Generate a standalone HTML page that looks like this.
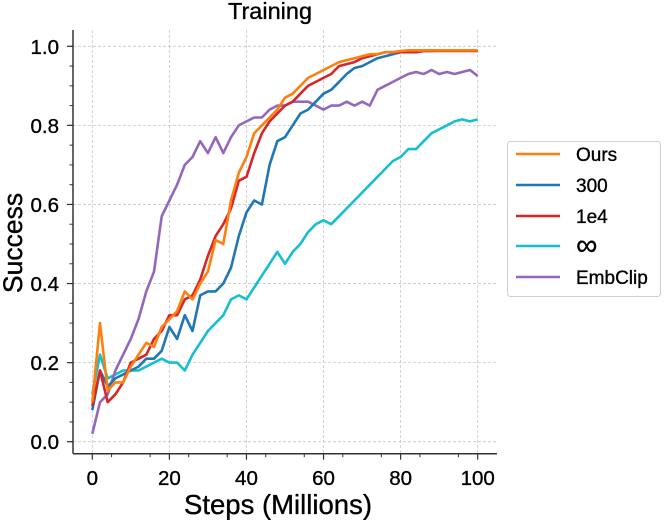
<!DOCTYPE html>
<html><head><meta charset="utf-8"><style>
html,body{margin:0;padding:0;background:#fff;}
svg{display:block;font-family:"Liberation Sans","DejaVu Sans",sans-serif;}
text{stroke:#000;stroke-width:0.35;}
</style></head><body>
<svg id="chart" width="664" height="520" viewBox="0 0 664 520" xmlns="http://www.w3.org/2000/svg">
<g id="grid"></g>
<g id="series"></g>
<g id="axes"></g>
<text x="270" y="19" font-size="23.5" text-anchor="middle">Training</text>
<text x="278" y="514" font-size="27.5" text-anchor="middle">Steps (Millions)</text>
<text transform="translate(22,243) rotate(-90)" font-size="26.5" text-anchor="middle">Success</text>
<g id="legend"></g>
</svg>
<script>
const stepSize = 2;
const ours = [0.10,0.30,0.13,0.15,0.15,0.19,0.22,0.25,0.24,0.29,0.31,0.33,0.38,0.36,0.40,0.43,0.51,0.50,0.61,0.68,0.72,0.78,0.80,0.82,0.84,0.87,0.88,0.90,0.92,0.93,0.94,0.95,0.96,0.965,0.97,0.975,0.98,0.98,0.985,0.985,0.988,0.99,0.99,0.99,0.99,0.99,0.99,0.99,0.99,0.99,0.99];
const s300 = [0.08,0.18,0.14,0.16,0.17,0.18,0.19,0.21,0.21,0.23,0.29,0.26,0.32,0.28,0.37,0.38,0.38,0.40,0.44,0.52,0.58,0.61,0.60,0.70,0.76,0.77,0.80,0.83,0.84,0.86,0.88,0.89,0.91,0.93,0.945,0.95,0.96,0.97,0.975,0.98,0.985,0.985,0.985,0.988,0.988,0.99,0.99,0.99,0.99,0.99,0.99];
const s1e4 = [0.09,0.18,0.10,0.12,0.15,0.20,0.21,0.22,0.26,0.28,0.32,0.32,0.36,0.37,0.41,0.47,0.52,0.55,0.59,0.66,0.67,0.73,0.78,0.81,0.83,0.85,0.86,0.88,0.90,0.91,0.92,0.93,0.95,0.955,0.96,0.97,0.975,0.98,0.985,0.985,0.985,0.985,0.985,0.988,0.988,0.988,0.988,0.988,0.988,0.988,0.988];
const sInf = [0.12,0.22,0.16,0.17,0.18,0.18,0.18,0.19,0.20,0.21,0.20,0.20,0.18,0.22,0.25,0.28,0.30,0.32,0.36,0.37,0.36,0.39,0.42,0.45,0.48,0.45,0.48,0.50,0.53,0.55,0.56,0.55,0.57,0.59,0.61,0.63,0.65,0.67,0.69,0.71,0.72,0.74,0.74,0.76,0.78,0.79,0.80,0.81,0.815,0.81,0.815];
const embclip = [0.02,0.10,0.12,0.18,0.22,0.26,0.31,0.38,0.43,0.57,0.61,0.65,0.70,0.72,0.76,0.73,0.77,0.73,0.77,0.80,0.81,0.82,0.82,0.84,0.85,0.85,0.86,0.86,0.86,0.85,0.84,0.85,0.85,0.86,0.85,0.86,0.85,0.89,0.90,0.91,0.92,0.93,0.935,0.93,0.94,0.93,0.935,0.93,0.935,0.94,0.925];
const seriesNames = ["Ours","300","1e4","∞","EmbClip"];
const xTicks = [0,20,40,60,80,100];
const yTicks = [0.0,0.2,0.4,0.6,0.8,1.0];

const NS="http://www.w3.org/2000/svg";
const colors=["#ff7f0e","#1f77b4","#d62728","#17becf","#9467bd"];
const seriesData=[ours,s300,s1e4,sInf,embclip];
const drawOrder=[3,4,1,2,0];
function xs(v){return 92.3+(v/100)*(477.7-92.3);}
function ys(v){return 441.7-v*(441.7-46.3);}
function mk(tag,attrs,parent){const e=document.createElementNS(NS,tag);for(const k in attrs)e.setAttribute(k,attrs[k]);parent.appendChild(e);return e;}
const grid=document.getElementById('grid'),axes=document.getElementById('axes'),ser=document.getElementById('series'),leg=document.getElementById('legend');
const L=73,R=497,T=30,B=453.7;
xTicks.forEach(t=>{
  const g=mk('line',{x1:xs(t),x2:xs(t),y1:T,y2:B,stroke:'#c8c8c8','stroke-width':0.8,'stroke-dasharray':'3,2'},grid);
  
  
  const tk=mk('line',{x1:xs(t),x2:xs(t),y1:B,y2:B+6,stroke:'#333','stroke-width':1.2},axes);
  
  
  const lb=mk('text',{x:xs(t),y:485,'font-size':20.5,'text-anchor':'middle'},axes);lb.textContent=t;
  
  
});
for(let m=5;m<100;m+=10){mk('line',{x1:xs(m),x2:xs(m),y1:B,y2:B+3.5,stroke:'#333','stroke-width':1},axes);}
yTicks.forEach(t=>{
  const g=mk('line',{x1:L,x2:R,y1:ys(t),y2:ys(t),stroke:'#c8c8c8','stroke-width':0.8,'stroke-dasharray':'3,2'},grid);
  
  
  const tk=mk('line',{x1:L-6,x2:L,y1:ys(t),y2:ys(t),stroke:'#333','stroke-width':1.2},axes);
  
  
  const lb=mk('text',{x:L-14,y:ys(t)+7.5,'font-size':20.5,'text-anchor':'end'},axes);lb.textContent=t.toFixed(1);
  
  
});
for(let m=-0.05;m<1.2;m+=0.05){const yy=ys(m);if(yy>=T&&yy<=B)mk('line',{x1:L-3.5,x2:L,y1:yy,y2:yy,stroke:'#333','stroke-width':1},axes);}
const sl=mk('line',{x1:L,x2:L,y1:T,y2:B,stroke:'#333','stroke-width':1.5},axes);


const sb=mk('line',{x1:L,x2:R,y1:B,y2:B,stroke:'#333','stroke-width':1.5},axes);


drawOrder.forEach(i=>{
  const pts=seriesData[i].map((v,j)=>xs(j*stepSize).toFixed(1)+','+ys(v).toFixed(1)).join(' ');
  const p=mk('polyline',{points:pts,fill:'none',stroke:colors[i],'stroke-width':2.6,'stroke-linejoin':'round'},ser);
  
  
});
const box=mk('rect',{x:507.5,y:141.5,width:153,height:155,rx:3,fill:'#fff',stroke:'#d0d0d0','stroke-width':1},leg);


const ly=[154,185,216,246,277];
seriesNames.forEach((n,i)=>{
  const g=mk('g',{},leg);
  
  
  mk('line',{x1:516,x2:560,y1:ly[i],y2:ly[i],stroke:colors[i],'stroke-width':2.6},g);
  const t=mk('text',{x:576,y:ly[i]+7,'font-size':i===3?30:19},g);
  if(i===3)t.setAttribute('y',ly[i]+9);
  t.textContent=n;
});
</script>
</body></html>
